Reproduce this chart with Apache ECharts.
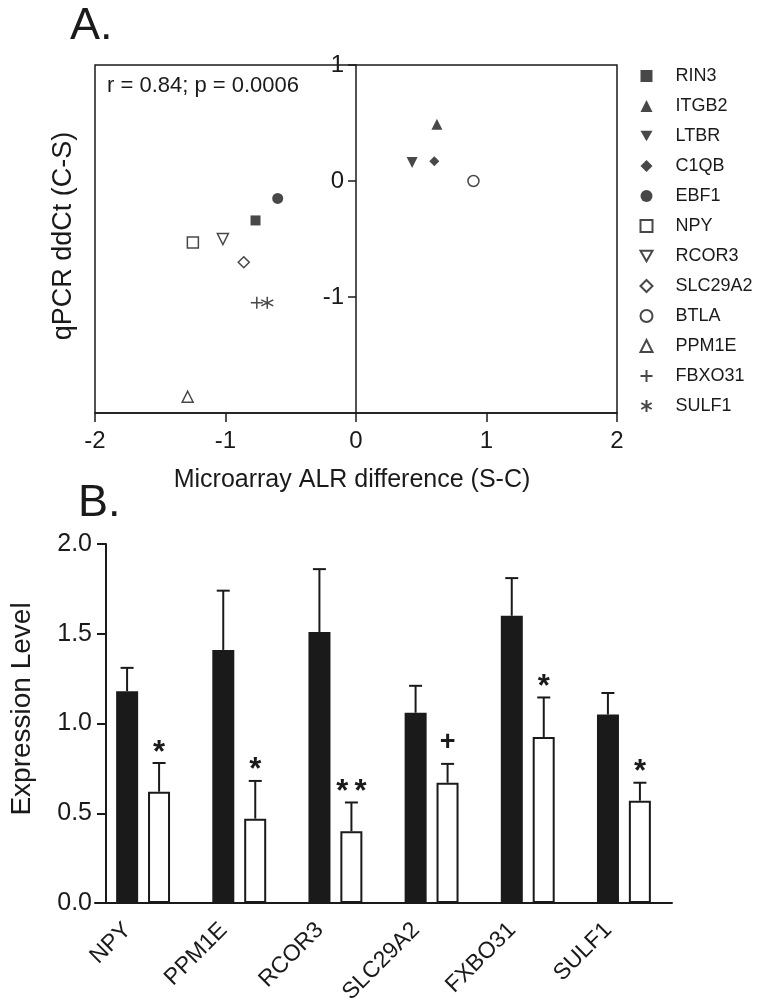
<!DOCTYPE html>
<html>
<head>
<meta charset="utf-8">
<script src="https://cdn.jsdelivr.net/npm/echarts@6/dist/echarts.min.js"></script>
<style>
html,body{margin:0;padding:0;background:#fff;}
#chart{width:762px;height:1008px;}
</style>
</head>
<body>
<div id="chart"></div>
<script>
// ---------- Panel A data ----------
const geneNamesA = ['RIN3','ITGB2','LTBR','C1QB','EBF1','NPY','RCOR3','SLC29A2','BTLA','PPM1E','FBXO31','SULF1'];
const alrDiff   = [-0.77, 0.62, 0.43, 0.60, -0.60, -1.25, -1.02, -0.86, 0.90, -1.29, -0.76, -0.68];
const qpcrDdct  = [-0.34, 0.49, 0.16, 0.17, -0.15, -0.53, -0.50, -0.70, 0.00, -1.86, -1.05, -1.05];
const xTicksA = [-2, -1, 0, 1, 2];
const yTicksA = [-2, -1, 0, 1];
const statText = 'r = 0.84; p = 0.0006';

// ---------- Panel B data ----------
const genesB = ['NPY','PPM1E','RCOR3','SLC29A2','FXBO31','SULF1'];
const controlMean = [1.18, 1.41, 1.51, 1.06, 1.60, 1.05];
const controlSem  = [0.13, 0.33, 0.35, 0.15, 0.21, 0.12];
const stressMean  = [0.62, 0.47, 0.40, 0.67, 0.925, 0.57];
const stressSem   = [0.16, 0.21, 0.16, 0.105, 0.22, 0.10];
const sigMarks    = ['*', '*', '*\u2009*', '+', '*', '*'];
const yTicksB = [0, 0.5, 1.0, 1.5, 2.0];

// ---------- styles ----------
const FONT = '"Liberation Sans", Arial, Helvetica, sans-serif';
const INK = '#1a1a1a';
const plusPath = 'path://M0,5L10,5M5,0L5,10';
const starPath = 'path://M5,0L5,10M0.67,2.5L9.33,7.5M0.67,7.5L9.33,2.5';
const downTri = 'path://M0,0L10,0L5,8.66Z';
const symStyles = {
  RIN3:   {symbol:'rect', size:10, fill:INK},
  ITGB2:  {symbol:'triangle', size:11, fill:INK},
  LTBR:   {symbol:downTri, size:11, fill:INK},
  C1QB:   {symbol:'diamond', size:10, fill:INK},
  EBF1:   {symbol:'circle', size:11, fill:INK},
  NPY:    {symbol:'rect', size:11, fill:'#fff'},
  RCOR3:  {symbol:downTri, size:11, fill:'#fff'},
  SLC29A2:{symbol:'diamond', size:11, fill:'#fff'},
  BTLA:   {symbol:'circle', size:11, fill:'#fff'},
  PPM1E:  {symbol:'triangle', size:11, fill:'#fff'},
  FBXO31: {symbol:plusPath, size:12, fill:'none'},
  SULF1:  {symbol:starPath, size:12, fill:'none'}
};

const scatterSeries = geneNamesA.map((g, i) => {
  const s = symStyles[g];
  return {
    name: g,
    type: 'scatter',
    xAxisIndex: 0, yAxisIndex: 0,
    symbol: s.symbol,
    symbolSize: s.size,
    data: [[alrDiff[i], qpcrDdct[i]]],
    itemStyle: {
      color: s.fill,
      borderColor: INK,
      borderWidth: s.fill === INK ? 0 : 1.5
    },
    emphasis: {disabled: true},
    z: 5
  };
});

function errBarSeries(means, sems, offset, marks) {
  return {
    type: 'custom',
    xAxisIndex: 1, yAxisIndex: 1,
    z: 10,
    data: means.map((m, i) => [i, m, sems[i]]),
    renderItem: function (params, api) {
      const i = api.value(0), m = api.value(1), e = api.value(2);
      const base = api.coord([i, m]);
      const top = api.coord([i, m + e]);
      const x = base[0] + offset;
      const children = [
        {type: 'line', shape: {x1: x, y1: base[1], x2: x, y2: top[1]},
         style: {stroke: INK, lineWidth: 2}},
        {type: 'line', shape: {x1: x - 6.5, y1: top[1], x2: x + 6.5, y2: top[1]},
         style: {stroke: INK, lineWidth: 2}}
      ];
      if (marks) {
        const t = marks[params.dataIndex];
        const isStar = t.indexOf('*') >= 0;
        children.push({
          type: 'text',
          style: {
            text: t, x: x, y: top[1] - (isStar ? 10 : 21),
            align: 'center', verticalAlign: 'middle',
            font: (isStar ? 'bold 31px ' : 'bold 27px ') + FONT, fill: INK
          }
        });
      }
      return {type: 'group', children: children};
    }
  };
}

const option = {
  animation: false,
  backgroundColor: '#fff',
  textStyle: {fontFamily: FONT},
  graphic: [
    {type: 'text', left: 70, top: 4, style: {text: 'A.', font: '45px ' + FONT, fill: INK}},
    {type: 'text', left: 78, top: 481, style: {text: 'B.', font: '45px ' + FONT, fill: INK}},
    {type: 'text', left: 107, top: 75, style: {text: statText, font: '22px ' + FONT, fill: INK}},
    {type: 'text', x: 64, y: 236, rotation: Math.PI / 2,
     style: {text: 'qPCR ddCt (C-S)', font: '27px ' + FONT, fill: INK, align: 'center', verticalAlign: 'middle'}},
    {type: 'text', x: 352, y: 480,
     style: {text: 'Microarray ALR difference (S-C)', font: '25px ' + FONT, fill: INK, align: 'center', verticalAlign: 'middle'}},
    {type: 'text', x: 22, y: 709, rotation: Math.PI / 2,
     style: {text: 'Expression Level', font: '28px ' + FONT, fill: INK, align: 'center', verticalAlign: 'middle'}}
  ],
  legend: {
    data: geneNamesA,
    orient: 'vertical',
    left: 633, top: 61,
    itemWidth: 12, itemHeight: 12,
    itemGap: 10,
    selectedMode: false,
    textStyle: {fontSize: 18, color: INK, fontFamily: FONT, lineHeight: 20, padding: [0, 0, 0, 18]}
  },
  grid: [
    {left: 95, top: 65, width: 522, height: 348, show: true, borderColor: INK, borderWidth: 1.5, containLabel: false},
    {left: 95, top: 544, width: 577, height: 359, containLabel: false}
  ],
  xAxis: [
    {
      type: 'value', gridIndex: 0, min: xTicksA[0], max: xTicksA[xTicksA.length - 1], interval: 1,
      axisLine: {onZero: false, lineStyle: {color: INK, width: 1.5}},
      axisTick: {show: true, length: 9, lineStyle: {color: INK, width: 1.5}},
      axisLabel: {fontSize: 24, color: INK, margin: 16, fontFamily: FONT},
      splitLine: {show: false}
    },
    {
      type: 'category', gridIndex: 1, data: genesB,
      axisLine: {lineStyle: {color: INK, width: 2}},
      axisTick: {show: false},
      axisLabel: {fontSize: 23, color: INK, rotate: 45, margin: 8, padding: [0, 22, 0, 0], fontFamily: FONT, interval: 0},
      splitLine: {show: false}
    }
  ],
  yAxis: [
    {
      type: 'value', gridIndex: 0, min: yTicksA[0], max: yTicksA[yTicksA.length - 1], interval: 1,
      offset: -261,
      axisLine: {onZero: false, lineStyle: {color: INK, width: 1.5}},
      axisTick: {show: true, length: 8, lineStyle: {color: INK, width: 1.5}},
      axisLabel: {fontSize: 24, color: INK, margin: 12, showMinLabel: false, fontFamily: FONT},
      splitLine: {show: false}
    },
    {
      type: 'value', gridIndex: 1, min: yTicksB[0], max: yTicksB[yTicksB.length - 1], interval: 0.5,
      offset: -11,
      axisLine: {show: true, lineStyle: {color: INK, width: 2}},
      axisTick: {show: true, length: 9, lineStyle: {color: INK, width: 2}},
      axisLabel: {fontSize: 25, color: INK, margin: 14, fontFamily: FONT,
                  formatter: v => v.toFixed(1)},
      splitLine: {show: false}
    }
  ],
  series: [
    ...scatterSeries,
    {
      name: 'Control', type: 'bar', xAxisIndex: 1, yAxisIndex: 1,
      data: controlMean, barWidth: 22, barGap: '45%',
      itemStyle: {color: INK},
      emphasis: {disabled: true}
    },
    {
      name: 'Stress', type: 'bar', xAxisIndex: 1, yAxisIndex: 1,
      data: stressMean, barWidth: 22, barGap: '45%',
      itemStyle: {color: '#fff', borderColor: INK, borderWidth: 2},
      emphasis: {disabled: true}
    },
    errBarSeries(controlMean, controlSem, -16, null),
    errBarSeries(stressMean, stressSem, 16, sigMarks)
  ]
};

const chart = echarts.init(document.getElementById('chart'), null, {renderer: 'canvas'});
chart.setOption(option);
</script>
</body>
</html>
